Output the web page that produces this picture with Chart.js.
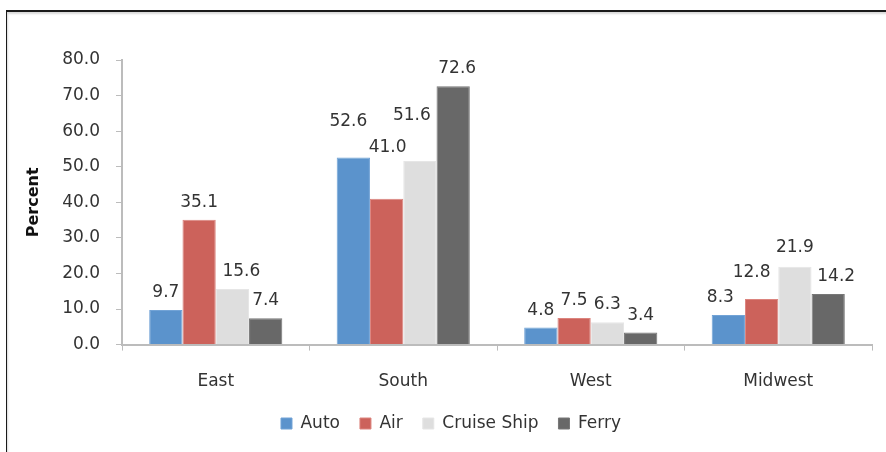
<!doctype html>
<html lang="en">
  <head>
    <meta charset="utf-8">
    <title>Percent by region</title>
    <style>
      * {
        margin: 0;
        padding: 0;
      }
      body {
        width: 886px;
        height: 452px;
        background: #fff;
        position: relative;
        overflow: hidden;
      }
      .frame {
        position: absolute;
        left: 6px;
        top: 10px;
        width: 900px;
        height: 460px;
        border-top: 2px solid #1a1a1a;
        border-left: 1px solid #1a1a1a;
        box-shadow: inset 1px 2px 2px rgba(0, 0, 0, 0.15);
      }
      .chartBox {
        position: absolute;
        left: 0;
        top: 0;
        width: 886px;
        height: 452px;
      }
    </style>
  </head>
  <body>
    <div class="frame"></div>
    <div class="chartBox">
      <canvas id="myChart"></canvas>
    </div>
    <script src="https://cdn.jsdelivr.net/npm/chart.js/dist/chart.umd.min.js"></script>
    <script>
    // setup
    const regions = ['East', 'South', 'West', 'Midwest'];
    const auto = [9.7, 52.6, 4.8, 8.3];
    const air = [35.1, 41.0, 7.5, 12.8];
    const cruiseShip = [15.6, 51.6, 6.3, 21.9];
    const ferry = [7.4, 72.6, 3.4, 14.2];
    const yTicks = [0, 10, 20, 30, 40, 50, 60, 70, 80];

    const FONT = '"DejaVu Sans", sans-serif';
    const TEXT = '#333333';
    const AXIS = '#bcbcbc';

    // hand-moved value labels in the original (px, per series then region)
    const labelShift = [
      [[0, 0], [-5, -18], [0, 0], [-8, 0]],
      [[0, 0], [1, -34], [0, 0], [-10, -9]],
      [[9, 0], [-8, -28], [0, 0], [0, -2]],
      [[0, 0], [4, 0], [0, 0], [8, 0]]
    ];

    const data = {
      labels: regions,
      datasets: [
        { label: 'Auto', data: auto, backgroundColor: '#5b93cc', borderColor: '#72a3d6' },
        { label: 'Air', data: air, backgroundColor: '#cc625b', borderColor: '#dc847e' },
        { label: 'Cruise Ship', data: cruiseShip, backgroundColor: '#dedede', borderColor: '#e6e6e6' },
        { label: 'Ferry', data: ferry, backgroundColor: '#686868', borderColor: '#777777' }
      ]
    };

    // value labels above the bars
    const barValues = {
      id: 'barValues',
      afterDatasetsDraw: (chart) => {
        const { ctx } = chart;
        ctx.save();
        ctx.font = '17px ' + FONT;
        ctx.fillStyle = TEXT;
        ctx.textAlign = 'center';
        ctx.textBaseline = 'alphabetic';
        chart.data.datasets.forEach((ds, i) => {
          chart.getDatasetMeta(i).data.forEach((bar, j) => {
            const [dx, dy] = labelShift[i][j];
            ctx.fillText(ds.data[j].toFixed(1), bar.x + dx, bar.y - 13 + dy);
          });
        });
        ctx.restore();
      }
    };

    // config
    const config = {
      type: 'bar',
      data: data,
      options: {
        responsive: false,
        animation: false,
        barPercentage: 1,
        categoryPercentage: 0.71,
        borderWidth: 1,
        layout: {
          padding: { top: 60, right: 14, bottom: 10, left: 30 }
        },
        scales: {
          x: {
            // labels sit lower than the box Chart.js reserves for them
            afterFit: (scale) => { scale.height = scale.height - 18; },
            grid: {
              offset: true,
              drawOnChartArea: false,
              tickLength: 6,
              color: AXIS
            },
            border: { color: AXIS, width: 2 },
            ticks: {
              padding: 21,
              color: TEXT,
              font: { family: FONT, size: 17 }
            }
          },
          y: {
            min: 0,
            max: 80,
            afterFit: (scale) => { scale.width = 92; },
            afterBuildTicks: (scale) => {
              scale.ticks = yTicks.map(v => ({ value: v }));
            },
            grid: {
              drawOnChartArea: false,
              tickLength: 6,
              color: AXIS
            },
            border: { color: AXIS, width: 2 },
            ticks: {
              padding: 16,
              color: TEXT,
              font: { family: FONT, size: 17 },
              callback: (value) => value.toFixed(1)
            },
            title: {
              display: true,
              text: 'Percent',
              color: '#111',
              padding: { top: -6, bottom: 0 },
              font: { family: FONT, size: 16, weight: 'bold' }
            }
          }
        },
        plugins: {
          legend: {
            position: 'bottom',
            labels: {
              boxWidth: 11,
              boxHeight: 11,
              padding: 20,
              color: TEXT,
              font: { family: FONT, size: 17 }
            }
          },
          tooltip: { enabled: false }
        }
      },
      plugins: [barValues]
    };

    const canvas = document.getElementById('myChart');
    canvas.width = 886;
    canvas.height = 452;
    const myChart = new Chart(canvas, config);
    </script>
  </body>
</html>
